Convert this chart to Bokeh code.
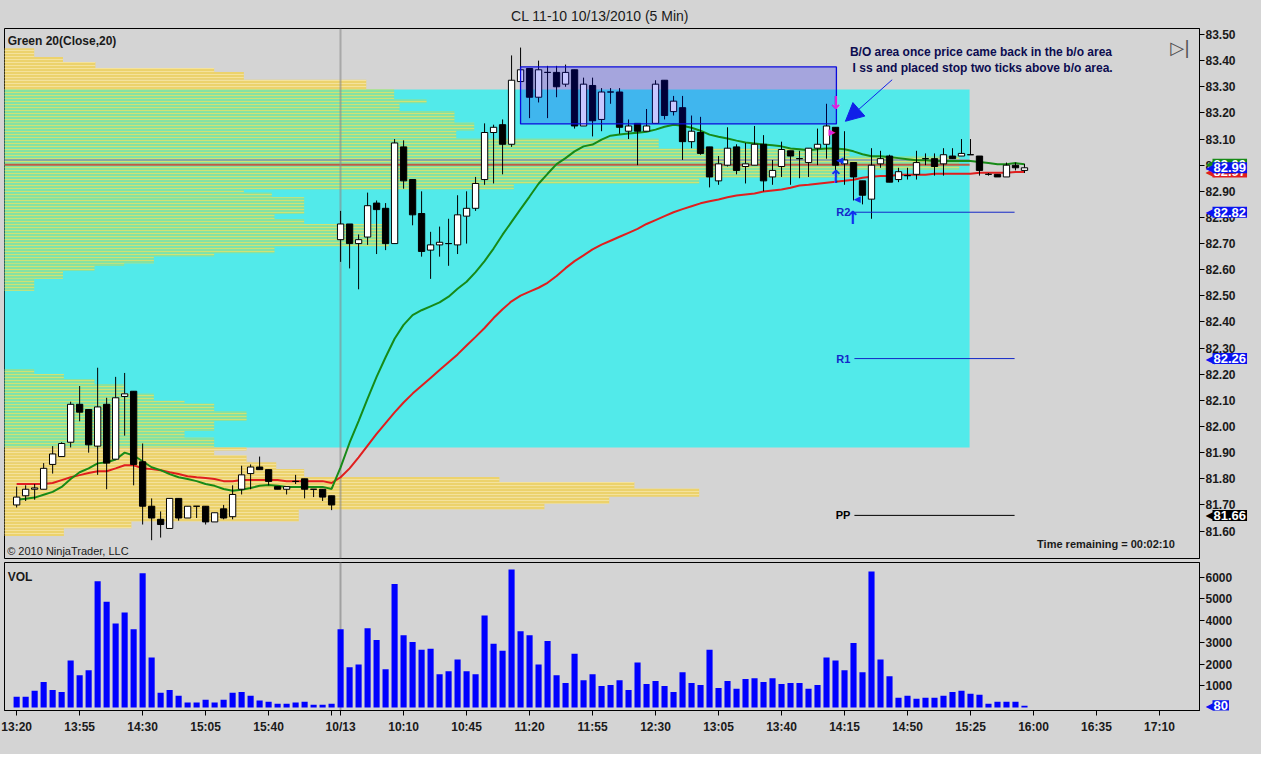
import numpy as np
from bokeh.plotting import figure
from bokeh.layouts import column, row
from bokeh.models import Range1d, FixedTicker, Label, Arrow, NormalHead
from bokeh.embed import file_html
from bokeh.resources import INLINE
from bokeh.core.properties import value

# ---------------- data ----------------
opens = [81.70, 81.735, 81.76, 81.76, 81.855, 81.885, 81.94, 82.085, 82.065, 81.925,
         82.085, 81.875, 82.115, 82.135, 81.865, 81.695, 81.645, 81.61, 81.725, 81.65,
         81.695, 81.695, 81.635, 81.685, 81.655, 81.76, 81.82, 81.845, 81.835, 81.77,
         81.76, 81.79, 81.80, 81.76, 81.76, 81.735,
         82.715, 82.775, 82.70, 82.725, 82.855, 82.835, 82.70, 83.07, 82.945, 82.815,
         82.675, 82.695, 82.70, 82.695, 82.805, 82.835, 82.945, 83.125, 83.155, 83.08,
         83.32, 83.37, 83.26, 83.355, 83.355, 83.31, 83.365, 83.15, 83.305, 83.175,
         83.28, 83.28, 83.13, 83.16, 83.13, 83.16, 83.325, 83.205, 83.22, 83.09,
         83.125, 83.07, 82.94, 83.00, 83.07, 82.995, 83.00, 83.08, 82.955, 82.995,
         83.055, 83.025, 83.01, 83.065, 83.08, 83.145, 83.005, 83.01, 82.94, 82.87,
         83.005, 83.035, 82.945, 82.96, 82.965, 83.025, 83.025, 83.005, 83.035, 83.035,
         83.04, 83.035, 82.965, 82.965, 82.955, 83.00, 82.98]
highs = [81.77, 81.775, 81.78, 81.86, 81.925, 81.94, 82.095, 82.155, 82.065, 82.225,
         82.11, 82.19, 82.205, 82.135, 81.935, 81.725, 81.675, 81.725, 81.725, 81.695,
         81.695, 81.695, 81.67, 81.70, 81.775, 81.85, 81.855, 81.885, 81.835, 81.77,
         81.77, 81.815, 81.80, 81.76, 81.76, 81.735,
         82.825, 82.775, 82.735, 82.895, 82.865, 82.855, 83.10, 83.095, 82.945, 82.90,
         82.745, 82.765, 82.795, 82.885, 82.90, 82.955, 83.16, 83.155, 83.175, 83.42,
         83.45, 83.37, 83.40, 83.38, 83.38, 83.385, 83.365, 83.335, 83.335, 83.295,
         83.295, 83.295, 83.175, 83.16, 83.215, 83.325, 83.325, 83.265, 83.265, 83.19,
         83.185, 83.07, 83.035, 83.145, 83.08, 83.085, 83.15, 83.115, 83.02, 83.09,
         83.055, 83.055, 83.065, 83.14, 83.235, 83.145, 83.13, 83.01, 82.94, 83.065,
         83.055, 83.04, 82.99, 82.99, 83.055, 83.045, 83.045, 83.065, 83.065, 83.10,
         83.10, 83.035, 82.97, 82.965, 83.01, 83.01, 83.005]
lows = [81.69, 81.715, 81.72, 81.76, 81.82, 81.885, 81.92, 82.02, 81.90, 81.815,
        81.76, 81.875, 81.965, 81.775, 81.625, 81.565, 81.575, 81.61, 81.64, 81.65,
        81.65, 81.625, 81.635, 81.645, 81.645, 81.74, 81.76, 81.835, 81.775, 81.76,
        81.74, 81.78, 81.725, 81.73, 81.715, 81.68,
        82.63, 82.605, 82.525, 82.695, 82.66, 82.675, 82.70, 82.91, 82.77, 82.65,
        82.565, 82.65, 82.615, 82.66, 82.70, 82.825, 82.925, 82.93, 82.965, 83.07,
        83.32, 83.18, 83.24, 83.18, 83.26, 83.30, 83.14, 83.15, 83.11, 83.13,
        83.235, 83.12, 83.10, 83.00, 83.13, 83.16, 83.175, 83.19, 83.02, 83.065,
        83.04, 82.915, 82.925, 82.995, 82.965, 82.93, 83.00, 82.90, 82.925, 82.955,
        82.925, 82.95, 82.955, 83.00, 83.025, 82.975, 82.925, 82.865, 82.85, 82.795,
        82.99, 82.935, 82.935, 82.945, 82.945, 83.00, 82.96, 82.96, 83.025, 83.035,
        83.04, 82.96, 82.96, 82.955, 82.955, 82.98, 82.97]
closes = [81.73, 81.76, 81.765, 81.84, 81.895, 81.935, 82.085, 82.055, 81.93, 82.075,
          81.86, 82.11, 82.125, 81.855, 81.695, 81.65, 81.625, 81.725, 81.65, 81.695,
          81.695, 81.635, 81.67, 81.65, 81.74, 81.815, 81.845, 81.835, 81.79, 81.76,
          81.77, 81.79, 81.76, 81.76, 81.73, 81.70,
          82.775, 82.70, 82.715, 82.845, 82.83, 82.70, 83.085, 82.94, 82.81, 82.67,
          82.695, 82.705, 82.70, 82.81, 82.835, 82.93, 83.125, 83.145, 83.08, 83.325,
          83.365, 83.26, 83.365, 83.355, 83.30, 83.355, 83.15, 83.31, 83.17, 83.28,
          83.28, 83.145, 83.15, 83.13, 83.15, 83.31, 83.19, 83.245, 83.09, 83.13,
          83.045, 82.955, 83.005, 83.065, 82.98, 83.005, 83.08, 82.94, 82.98, 83.06,
          83.035, 83.025, 83.065, 83.08, 83.15, 83.00, 83.02, 82.955, 82.885, 83.00,
          83.025, 82.935, 82.975, 82.96, 83.01, 83.025, 82.995, 83.04, 83.025, 83.045,
          83.04, 82.98, 82.965, 82.955, 83.00, 82.99, 82.99]
volumes = [500, 500, 770, 1170, 810, 720, 2160, 1490, 1710, 5810,
           4860, 3870, 4370, 3600, 6170, 2300, 680, 810, 540, 230,
           230, 360, 230, 360, 680, 720, 540, 320, 270, 180,
           180, 230, 270, 135, 135, 180,
           3600, 1850, 1980, 3650, 3110, 1760, 5680, 3330, 3020, 2660,
           2700, 1530, 1670, 2210, 1670, 1530, 4230, 2930, 2610, 6350,
           3510, 3330, 1980, 3060, 1490, 1130, 2480, 1260, 1530, 990,
           1040, 1260, 810, 2070, 1080, 1220, 990, 720, 1620, 1130,
           1040, 2660, 900, 1220, 860, 1310, 1350, 1170, 1350, 1080,
           1130, 1130, 860, 1040, 2300, 2160, 1710, 2970, 1620, 6260,
           2210, 1440, 450, 540, 405, 450, 450, 540, 720, 770,
           630, 590, 180, 270, 270, 270, 80]
sma_green = [81.720, 81.724, 81.728, 81.739, 81.750, 81.769, 81.799, 81.825, 81.840, 81.859,
             81.863, 81.874, 81.900, 81.889, 81.867, 81.844, 81.833, 81.818, 81.806, 81.799,
             81.791, 81.780, 81.773, 81.761, 81.754, 81.758, 81.765, 81.773, 81.776, 81.773,
             81.769, 81.769, 81.769, 81.769, 81.769, 81.761,
             81.844, 81.938, 82.021, 82.107, 82.190, 82.265, 82.336, 82.389, 82.426, 82.445,
             82.460, 82.475, 82.497, 82.527, 82.554, 82.591, 82.633, 82.681, 82.734, 82.783,
             82.832, 82.880, 82.929, 82.967, 83.004, 83.027, 83.053, 83.072, 83.079, 83.098,
             83.113, 83.117, 83.121, 83.124, 83.128, 83.136, 83.147, 83.155, 83.151, 83.143,
             83.132, 83.117, 83.109, 83.102, 83.094, 83.087, 83.083, 83.079, 83.076, 83.072,
             83.064, 83.061, 83.057, 83.061, 83.064, 83.064, 83.061, 83.053, 83.042, 83.034,
             83.034, 83.031, 83.027, 83.023, 83.019, 83.019, 83.016, 83.016, 83.016, 83.016,
             83.016, 83.012, 83.008, 83.004, 83.004, 83.008, 83.004]
sma_red = [81.780, 81.780, 81.780, 81.780, 81.784, 81.795, 81.806, 81.814, 81.822, 81.829,
           81.829, 81.840, 81.852, 81.852, 81.840, 81.837, 81.833, 81.825, 81.818, 81.810,
           81.806, 81.803, 81.799, 81.791, 81.791, 81.795, 81.795, 81.795, 81.795, 81.795,
           81.791, 81.791, 81.791, 81.791, 81.791, 81.784,
           81.806, 81.840, 81.882, 81.927, 81.972, 82.013, 82.054, 82.092, 82.126, 82.156,
           82.186, 82.216, 82.246, 82.276, 82.310, 82.343, 82.377, 82.415, 82.449, 82.479,
           82.501, 82.516, 82.531, 82.550, 82.576, 82.606, 82.633, 82.655, 82.678, 82.696,
           82.711, 82.726, 82.741, 82.756, 82.775, 82.790, 82.805, 82.820, 82.832, 82.843,
           82.854, 82.862, 82.869, 82.877, 82.884, 82.888, 82.892, 82.899, 82.903, 82.907,
           82.914, 82.922, 82.925, 82.929, 82.933, 82.937, 82.940, 82.944, 82.952, 82.956,
           82.959, 82.959, 82.963, 82.963, 82.963, 82.963, 82.967, 82.967, 82.967, 82.967,
           82.967, 82.971, 82.971, 82.971, 82.971, 82.974, 82.974]

time_tick_bars = [0, 7, 14, 21, 28, 36, 43, 50, 57, 64, 71, 78, 85, 92, 99, 106, 113, 120, 127]
time_tick_labels = ["13:20", "13:55", "14:30", "15:05", "15:40", "10/13", "10:10", "10:45",
                    "11:20", "11:55", "12:30", "13:05", "13:40", "14:15", "14:50", "15:25",
                    "16:00", "16:35", "17:10"]
unlabeled_time_ticks = [35]
session_break_bar = 36
price_ticks = [81.6, 81.7, 81.8, 81.9, 82.0, 82.1, 82.2, 82.3, 82.4, 82.5,
               82.6, 82.7, 82.8, 82.9, 83.0, 83.1, 83.2, 83.3, 83.4, 83.5]
vol_ticks = [1000, 2000, 3000, 4000, 5000, 6000]

pivot_names = ["R2", "R1", "PP"]
pivot_values = [82.82, 82.26, 81.66]
pivot_colors = ["#1428C8", "#1428C8", "#000000"]
pivot_from_bar, pivot_to_bar = 93.1, 110.9

# value area (cyan zone) and breakout box
va_high, va_low, va_end_bar = 83.29, 81.92, 105.9
bo_top, bo_bottom, bo_from_bar, bo_to_bar = 83.376, 83.158, 56.0, 91.1
profile_line_a, profile_line_b = 83.020, 83.002

# volume profile: level top, level bottom, extent (in bar widths from the left edge)
profile_top = [83.447, 83.414, 83.395, 83.372, 83.357, 83.327, 83.290, 83.252, 83.237, 83.207,
               83.162, 83.132, 83.102, 83.064, 83.034, 82.982, 82.952, 82.929, 82.907, 82.895,
               82.877, 82.813, 82.794, 82.775, 82.689, 82.663, 82.651, 82.625, 82.614, 82.595,
               82.565, 82.220, 82.201, 82.182, 82.163, 82.126, 82.099, 82.088, 82.058, 82.021,
               81.983, 81.957, 81.920, 81.908, 81.889, 81.863, 81.837, 81.807, 81.788, 81.762,
               81.731, 81.705, 81.683, 81.638, 81.611]
profile_bottom = [83.414, 83.395, 83.372, 83.357, 83.327, 83.290, 83.252, 83.237, 83.207, 83.162,
                  83.132, 83.102, 83.064, 83.034, 82.982, 82.952, 82.929, 82.907, 82.895, 82.877,
                  82.813, 82.794, 82.775, 82.689, 82.663, 82.651, 82.625, 82.614, 82.595, 82.565,
                  82.520, 82.201, 82.182, 82.163, 82.126, 82.099, 82.088, 82.058, 82.021, 81.983,
                  81.957, 81.920, 81.908, 81.889, 81.863, 81.837, 81.807, 81.788, 81.762, 81.731,
                  81.705, 81.683, 81.638, 81.611, 81.581]
profile_extent = [3.3, 6.5, 10.1, 23.3, 26.6, 40.2, 43.3, 46.9, 43.9, 50.0,
                  52.2, 50.2, 72.7, 93.9, 106.1, 93.9, 77.2, 56.6, 26.6, 29.7,
                  33.3, 30.0, 33.3, 42.7, 30.0, 23.3, 16.6, 13.3, 10.0, 6.5,
                  3.3, 3.3, 6.6, 10.0, 13.3, 16.6, 20.0, 23.3, 26.9, 23.3,
                  20.0, 23.3, 26.9, 23.3, 26.9, 30.2, 33.3, 55.0, 70.0, 77.2,
                  67.2, 60.0, 32.7, 14.1, 6.6]

trade_mark_text = ["\u2193", "\u25B6", "\u25C0", "\u2191", "\u25C0", "\u2191"]
trade_mark_bar = [91.0, 90.6, 91.5, 91.0, 93.4, 92.9]
trade_mark_price = [83.238, 83.128, 83.019, 82.955, 82.869, 82.800]
trade_mark_color = ["#E020E0", "#E020E0", "#1030F0", "#1030F0", "#1030F0", "#1030F0"]
trade_mark_size = ["18px", "9px", "9px", "18px", "9px", "18px"]

# ---------------- styling ----------------
FONT = "Liberation Sans"
BG = "#D4D4D4"
x_start, x_end = -1.35, 131.45
bars = list(range(len(closes)))
FRAME_W, SIDE_W = 1195, 56
PRICE_H, VOL_H = 530, 148
TOP_B, VOL_BOTTOM_B = 26, 44

x_range = Range1d(x_start, x_end)
y_price = Range1d(81.495, 83.523)
y_vol = Range1d(-135, 6670)


def style_axis(a, labels=True):
    a.major_tick_out = 5
    a.major_tick_in = 0
    a.minor_tick_out = 0
    a.minor_tick_in = 0
    a.axis_line_color = "black"
    a.major_tick_line_color = "black"
    if labels:
        a.major_label_text_font = FONT
        a.major_label_text_font_size = "12px"
        a.major_label_text_font_style = "bold"
        a.major_label_text_color = "#1a1a1a"
        a.major_label_standoff = 4
    else:
        # line and ticks only; the labels are drawn in the side strip next to it
        a.major_label_text_color = None
        a.major_label_text_font_size = "0px"
        a.major_label_standoff = 0


p = figure(frame_width=FRAME_W, frame_height=PRICE_H, x_range=x_range, y_range=y_price,
           output_backend="svg", toolbar_location=None,
           x_axis_location=None, y_axis_location="right",
           min_border_left=4, min_border_right=6, min_border_top=TOP_B, min_border_bottom=2,
           background_fill_color=BG, border_fill_color=BG,
           outline_line_color="black", title="CL 11-10  10/13/2010 (5 Min)")
p.title.align = "center"
p.title.text_font = FONT
p.title.text_font_size = "14px"
p.title.text_font_style = "normal"
p.title.text_color = "#1a1a1a"
p.title.offset = 52
p.grid.visible = False

# cyan value area
p.quad(left=[x_start], right=[va_end_bar], top=[va_high], bottom=[va_low],
       fill_color="#52EAEA", line_color=None)

# volume profile
inside = [va_low < (t + b) / 2 < va_high for t, b in zip(profile_top, profile_bottom)]
pf_fill = ["#86E2A2" if i else "#ECD26C" for i in inside]
pf_hatch = ["#D0E274" if i else "#F4E29C" for i in inside]
p.quad(left=[x_start] * len(profile_top), right=[x_start + e for e in profile_extent],
       top=profile_top, bottom=profile_bottom, fill_color=pf_fill, line_color=None,
       hatch_pattern="horizontal_line", hatch_color=pf_hatch, hatch_scale=3, hatch_weight=1)

p.segment(x0=[x_start], x1=[va_end_bar], y0=[profile_line_a], y1=[profile_line_a],
          line_color="#8890A8", line_width=1.5)
p.segment(x0=[x_start], x1=[va_end_bar], y0=[profile_line_b], y1=[profile_line_b],
          line_color="#C05A46", line_width=2)

# session break
p.vspan(x=[session_break_bar], line_color="#8A8A8A", line_alpha=0.6, line_width=2)

# moving averages
p.line(bars, sma_red, line_color="#E01E1E", line_width=2)
p.line(bars, sma_green, line_color="#178A17", line_width=2)

# candles
body_top = [max(o, c) for o, c in zip(opens, closes)]
body_bot = [min(o, c) for o, c in zip(opens, closes)]
body_col = ["white" if c >= o else "black" for o, c in zip(opens, closes)]
p.segment(x0=bars, x1=bars, y0=highs, y1=lows, line_color="black", line_width=1)
p.vbar(x=bars, top=body_top, bottom=body_bot, width=0.7, fill_color=body_col,
       line_color="black", line_width=1)

# breakout box overlay
p.quad(left=[bo_from_bar], right=[bo_to_bar], top=[bo_top], bottom=[bo_bottom],
       fill_color="#0000FF", fill_alpha=0.22, line_color="#0A0ADC", line_width=1.3)

# pivots
p.segment(x0=[pivot_from_bar] * 3, x1=[pivot_to_bar] * 3, y0=pivot_values, y1=pivot_values,
          line_color=pivot_colors, line_width=1)
p.text(x=[pivot_from_bar - 0.45] * 3, y=pivot_values, text=pivot_names, text_color=pivot_colors,
       text_align="right", text_baseline="middle", text_font=value(FONT),
       text_font_style="bold", text_font_size="11px")

# trade markers
p.text(x=trade_mark_bar, y=trade_mark_price, text=trade_mark_text, text_color=trade_mark_color,
       text_align="center", text_baseline="middle", text_font=value("DejaVu Sans"),
       text_font_style="bold", text_font_size=trade_mark_size)

# note + arrow
p.text(x=[92.6, 92.9], y=[83.432, 83.372],
       text=["B/O area once price came back in the b/o area",
             "I ss and placed stop two ticks above b/o area."],
       text_color="#0C0C50", text_baseline="middle", text_font=value(FONT),
       text_font_style="bold", text_font_size="12px")
p.add_layout(Arrow(end=NormalHead(size=18, fill_color="#1020E8", line_color="#1020E8"),
                   x_start=97.3, y_start=83.327, x_end=92.1, y_end=83.168,
                   line_color="#1020E8", line_width=1))

# panel texts
p.text(x=[x_start + 0.35], y=[83.477], text=["Green 20(Close,20)"], text_color="#1a1a1a",
       text_baseline="middle", text_font=value(FONT), text_font_style="bold", text_font_size="12px")
p.text(x=[x_start + 0.3], y=[81.525], text=["\u00a9 2010 NinjaTrader, LLC"], text_color="#1a1a1a",
       text_baseline="middle", text_font=value(FONT), text_font_size="11px")
p.text(x=[113.4], y=[81.551], text=["Time remaining = 00:02:10"], text_color="#1a1a1a",
       text_baseline="middle", text_font=value(FONT), text_font_style="bold", text_font_size="11px")
p.text(x=[128.2], y=[83.45], text=["\u25B7|"], text_color="#505050",
       text_baseline="middle", text_font=value("DejaVu Sans"), text_font_size="18px")

# price axis: line and ticks from Bokeh's axis, labels drawn in the side strip
ax = p.yaxis[0]
ax.ticker = FixedTicker(ticks=price_ticks)
style_axis(ax, labels=False)

# ---------------- side strips (axis labels + value flags) ----------------
ps = figure(frame_width=SIDE_W, frame_height=PRICE_H, x_range=Range1d(0, SIDE_W), y_range=y_price,
            output_backend="svg", toolbar_location=None, x_axis_location=None, y_axis_location=None,
            min_border_left=0, min_border_right=0, min_border_top=TOP_B, min_border_bottom=2,
            background_fill_color=BG, border_fill_color=BG, outline_line_color=None)
ps.grid.visible = False
ps.text(x=[0] * len(price_ticks), y=price_ticks, text=["%.2f" % t for t in price_ticks],
        text_color="#1a1a1a", text_baseline="middle", text_align="left",
        text_font=value(FONT), text_font_style="bold", text_font_size="12px")


def flag(fig, y, text, bg, fg="white"):
    fig.add_layout(Label(x=0, y=y, x_offset=0, text="\u25C0", text_color=bg,
                         text_font="DejaVu Sans", text_font_size="12px",
                         text_baseline="middle", text_align="left"))
    fig.add_layout(Label(x=0, y=y, x_offset=7, text=text, text_color=fg,
                         text_font=FONT, text_font_style="bold", text_font_size="13px",
                         text_baseline="middle", text_align="left",
                         background_fill_color=bg, padding=1))


flag(ps, sma_green[-1], "%.2f" % sma_green[-1], "#178A17")
flag(ps, sma_red[-1], "%.2f" % sma_red[-1], "#E01E1E")
flag(ps, closes[-1], "%.2f" % closes[-1], "#0A14F0")
flag(ps, pivot_values[0], "%.2f" % pivot_values[0], "#0A14F0")
flag(ps, pivot_values[1], "%.2f" % pivot_values[1], "#0A14F0")
flag(ps, pivot_values[2], "%.2f" % pivot_values[2], "#000000")

# ---------------- volume panel ----------------
v = figure(frame_width=FRAME_W, frame_height=VOL_H, x_range=x_range, y_range=y_vol,
           output_backend="svg", toolbar_location=None, y_axis_location="right",
           min_border_left=4, min_border_right=6, min_border_top=2, min_border_bottom=VOL_BOTTOM_B,
           background_fill_color=BG, border_fill_color=BG, outline_line_color="black")
v.grid.visible = False
v.vspan(x=[session_break_bar], line_color="#A0A0A0", line_width=2)
v.vbar(x=bars, top=volumes, bottom=0, width=0.68, fill_color="#0000FF", line_color=None)
v.text(x=[x_start + 0.35], y=[6000], text=["VOL"], text_color="#1a1a1a", text_baseline="middle",
       text_font=value(FONT), text_font_style="bold", text_font_size="12px")

vy = v.yaxis[0]
vy.ticker = FixedTicker(ticks=vol_ticks)
style_axis(vy, labels=False)
vx = v.xaxis[0]
vx.ticker = FixedTicker(ticks=time_tick_bars, minor_ticks=unlabeled_time_ticks)
vx.major_label_overrides = {b: lab for b, lab in zip(time_tick_bars, time_tick_labels)}
style_axis(vx, labels=True)
vx.minor_tick_out = 5
vx.minor_tick_line_color = "black"

vs = figure(frame_width=SIDE_W, frame_height=VOL_H, x_range=Range1d(0, SIDE_W), y_range=y_vol,
            output_backend="svg", toolbar_location=None, x_axis_location=None, y_axis_location=None,
            min_border_left=0, min_border_right=0, min_border_top=2, min_border_bottom=VOL_BOTTOM_B,
            background_fill_color=BG, border_fill_color=BG, outline_line_color=None)
vs.grid.visible = False
vs.text(x=[0] * len(vol_ticks), y=vol_ticks, text=["%d" % t for t in vol_ticks],
        text_color="#1a1a1a", text_baseline="middle", text_align="left",
        text_font=value(FONT), text_font_style="bold", text_font_size="12px")
flag(vs, volumes[-1], "%d" % volumes[-1], "#0A14F0")

layout = column(row(p, ps, spacing=0), row(v, vs, spacing=0), spacing=0,
                styles={"background-color": BG})
open("out.html", "w").write(file_html(layout, INLINE))
